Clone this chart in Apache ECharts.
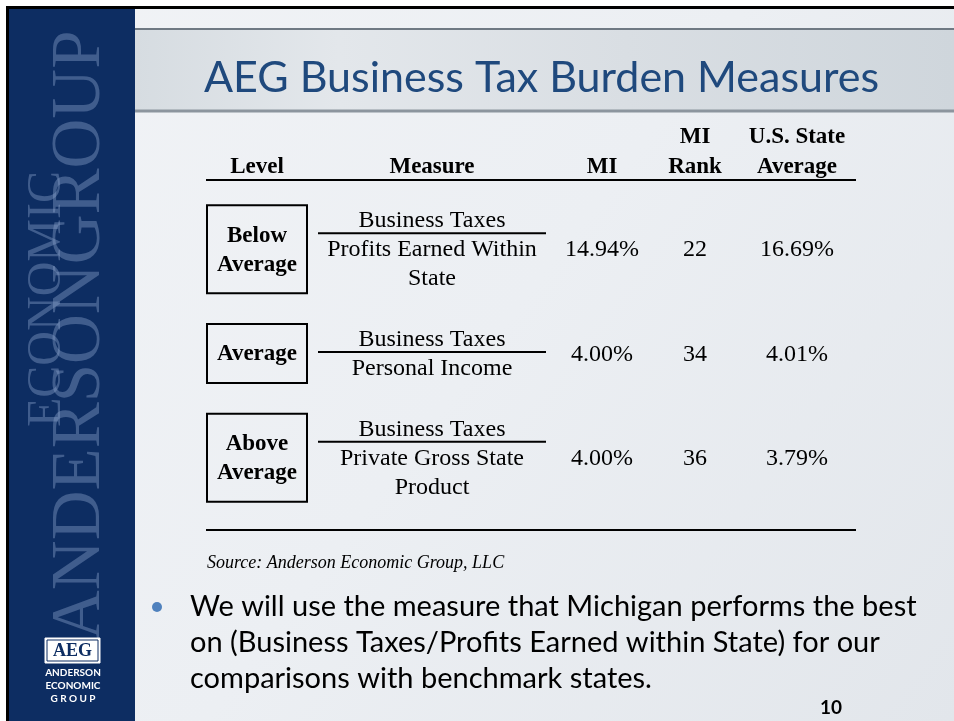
<!DOCTYPE html>
<html>
<head>
<meta charset="utf-8">
<title>AEG Business Tax Burden Measures</title>
<script src="https://cdn.jsdelivr.net/npm/echarts@6/dist/echarts.min.js"></script>
<style>
  html, body { margin: 0; padding: 0; }
  #slide { width: 954px; height: 721px; }
</style>
</head>
<body>
<div id="slide"></div>
<script>
// table data
const headerTop = ['', '', '', 'MI', 'U.S. State'];
const headerBottom = ['Level', 'Measure', 'MI', 'Rank', 'Average'];
const levels = ['Below\nAverage', 'Average', 'Above\nAverage'];
const numerators = ['Business Taxes', 'Business Taxes', 'Business Taxes'];
const denominators = ['Profits Earned Within\nState', 'Personal Income', 'Private Gross State\nProduct'];
const miValues = [14.94, 4.00, 4.00];
const miRanks = [22, 34, 36];
const usAverages = [16.69, 4.01, 3.79];

const bulletLines = [
  'We will use the measure that Michigan performs the best',
  'on (Business Taxes/Profits Earned within State) for our',
  'comparisons with benchmark states.'
];

const SERIF = '"Liberation Serif", "Times New Roman", serif';
const SANS = 'Lato, "Open Sans", sans-serif';
const colX = [257, 432, 602, 695, 797];
const lh = 29;

function txt(x, y, text, font, align) {
  return {
    type: 'text',
    style: { x: x, y: y, text: text, font: font, fill: '#000', align: align || 'center', verticalAlign: 'middle' }
  };
}

function renderRow(params, api) {
  const i = api.value(1);
  const cy = api.coord([0, i])[1];
  const children = [];

  // level box
  const lvl = levels[i].split('\n');
  const boxH = lvl.length * lh + 30;
  children.push({
    type: 'rect',
    shape: { x: 207, y: cy - boxH / 2 - 1, width: 100, height: boxH },
    style: { fill: 'none', stroke: '#000', lineWidth: 2 }
  });
  lvl.forEach((t, k) => {
    children.push(txt(colX[0], cy + (k - (lvl.length - 1) / 2) * lh, t, 'bold 23px ' + SERIF));
  });

  // fraction
  const den = denominators[i].split('\n');
  const top = cy - den.length / 2 * lh;
  children.push(txt(colX[1], top, numerators[i], '24px ' + SERIF));
  children.push({
    type: 'line',
    shape: { x1: 318, y1: top + 12, x2: 546, y2: top + 12 },
    style: { stroke: '#000', lineWidth: 2 }
  });
  den.forEach((t, k) => {
    children.push(txt(colX[1], top + (k + 1) * lh, t, '24px ' + SERIF));
  });

  // values
  children.push(txt(colX[2], cy, miValues[i].toFixed(2) + '%', '24px ' + SERIF));
  children.push(txt(colX[3], cy, String(miRanks[i]), '24px ' + SERIF));
  children.push(txt(colX[4], cy, usAverages[i].toFixed(2) + '%', '24px ' + SERIF));

  return { type: 'group', children: children };
}

const graphics = [];

// slide background
graphics.push({
  type: 'rect', z: -10,
  shape: { x: 0, y: 0, width: 954, height: 721 },
  style: {
    fill: new echarts.graphic.LinearGradient(0, 0, 1, 1, [
      { offset: 0, color: '#f1f3f6' },
      { offset: 0.5, color: '#eceff3' },
      { offset: 1, color: '#e2e6eb' }
    ])
  }
});
// header band
graphics.push({
  type: 'rect', z: -9,
  shape: { x: 134, y: 29, width: 820, height: 83 },
  style: {
    fill: new echarts.graphic.LinearGradient(0, 0, 1, 0, [
      { offset: 0, color: '#d6dce1' },
      { offset: 0.25, color: '#e3e7eb' },
      { offset: 0.6, color: '#d9dee3' },
      { offset: 1, color: '#cfd6dc' }
    ])
  }
});
graphics.push({ type: 'line', z: -8, shape: { x1: 134, y1: 29, x2: 954, y2: 29 }, style: { stroke: '#6f7983', lineWidth: 2 } });
graphics.push({ type: 'line', z: -8, shape: { x1: 134, y1: 111, x2: 954, y2: 111 }, style: { stroke: '#8c959e', lineWidth: 3 } });
// white margin with black frame line
graphics.push({ type: 'rect', z: -7, shape: { x: 0, y: 0, width: 954, height: 6 }, style: { fill: '#ffffff' } });
graphics.push({ type: 'rect', z: -7, shape: { x: 0, y: 0, width: 6, height: 721 }, style: { fill: '#ffffff' } });
graphics.push({ type: 'rect', z: -7, shape: { x: 6, y: 6, width: 948, height: 3 }, style: { fill: '#000' } });
graphics.push({ type: 'rect', z: -7, shape: { x: 6, y: 6, width: 3, height: 715 }, style: { fill: '#000' } });
// navy strip
graphics.push({ type: 'rect', z: -6, shape: { x: 9, y: 9, width: 126, height: 712 }, style: { fill: '#0d2d62' } });
graphics.push({
  type: 'text', z: -5, x: 115, y: 640, rotation: Math.PI / 2,
  style: { text: 'ANDERSONGROUP', font: '69px ' + SERIF, fill: 'rgba(135,160,200,0.42)', align: 'left', verticalAlign: 'bottom' }
});
graphics.push({
  type: 'text', z: -5, x: 71, y: 427, rotation: Math.PI / 2,
  style: { text: 'ECONOMIC', font: '48px ' + SERIF, fill: 'rgba(135,160,200,0.42)', align: 'left', verticalAlign: 'bottom' }
});
// logo
graphics.push({ type: 'rect', shape: { x: 45, y: 638, width: 55, height: 25 }, style: { fill: '#ffffff', stroke: '#ffffff', lineWidth: 1 } });
graphics.push({ type: 'rect', shape: { x: 47, y: 640, width: 51, height: 21 }, style: { fill: '#ffffff', stroke: '#0d2d62', lineWidth: 1 } });
graphics.push({ type: 'text', style: { x: 72.5, y: 651, text: 'AEG', font: 'bold 18px ' + SERIF, fill: '#0d2d62', align: 'center', verticalAlign: 'middle' } });
graphics.push({ type: 'text', style: { x: 73, y: 673, text: 'ANDERSON', font: 'bold 10px ' + SANS, fill: '#ffffff', align: 'center', verticalAlign: 'middle' } });
graphics.push({ type: 'text', style: { x: 73, y: 686, text: 'ECONOMIC', font: 'bold 10px ' + SANS, fill: '#ffffff', align: 'center', verticalAlign: 'middle' } });
graphics.push({ type: 'text', style: { x: 73, y: 699, text: 'G R O U P', font: 'bold 10px ' + SANS, fill: '#ffffff', align: 'center', verticalAlign: 'middle' } });

// title
graphics.push({
  type: 'text',
  style: { x: 204, y: 78, text: 'AEG Business Tax Burden Measures', font: '43px ' + SANS, fill: '#1f497d', align: 'left', verticalAlign: 'middle' }
});

// table header
headerTop.forEach((t, k) => {
  if (t) graphics.push(txt(colX[k], 137, t, 'bold 23px ' + SERIF));
});
headerBottom.forEach((t, k) => {
  graphics.push(txt(colX[k], 167, t, 'bold 23px ' + SERIF));
});
graphics.push({ type: 'line', shape: { x1: 206, y1: 180, x2: 856, y2: 180 }, style: { stroke: '#000', lineWidth: 2 } });
graphics.push({ type: 'line', shape: { x1: 206, y1: 530, x2: 856, y2: 530 }, style: { stroke: '#000', lineWidth: 2 } });

// source
graphics.push(txt(207, 563, 'Source: Anderson Economic Group, LLC', 'italic 18px ' + SERIF, 'left'));

// bullet
graphics.push({ type: 'circle', shape: { cx: 157, cy: 607, r: 5 }, style: { fill: '#4f81bd' } });
bulletLines.forEach((t, k) => {
  graphics.push(txt(190, 607 + k * 36, t, '29px ' + SANS, 'left'));
});

// page number
graphics.push(txt(831, 708, '10', 'bold 19px ' + SANS));

const chart = echarts.init(document.getElementById('slide'), null, { renderer: 'canvas' });
chart.setOption({
  animation: false,
  grid: { left: 0, right: 0, top: 198, height: 313 },
  xAxis: { type: 'value', min: 0, max: 1, show: false },
  yAxis: { type: 'category', data: levels, inverse: true, show: false },
  graphic: graphics,
  series: [{
    type: 'custom',
    renderItem: renderRow,
    encode: { x: 0, y: 1 },
    data: levels.map((_, i) => [0.5, i]),
    z: 10
  }]
});
</script>
</body>
</html>
